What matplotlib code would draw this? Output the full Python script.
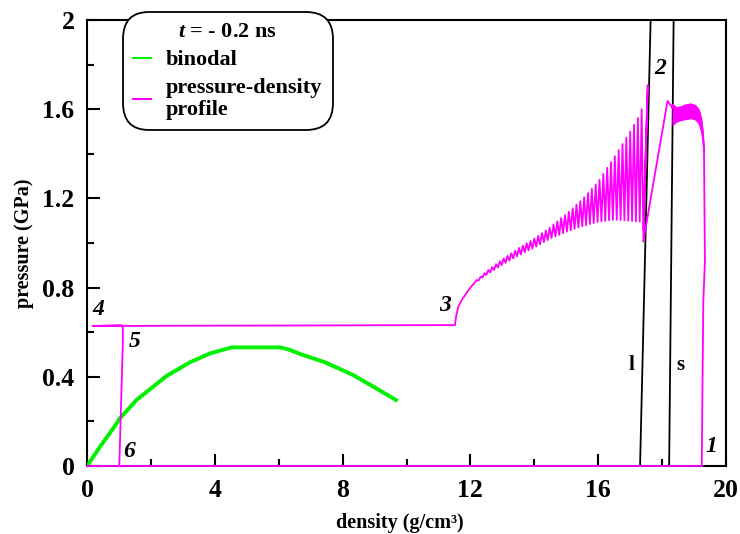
import matplotlib
matplotlib.use("Agg")
import matplotlib.pyplot as plt

plt.rcParams['font.family'] = ['Liberation Serif', 'DejaVu Serif']
plt.rcParams['font.weight'] = 'bold'
plt.rcParams['mathtext.fontset'] = 'custom'
plt.rcParams['mathtext.it'] = 'Liberation Serif:bold:italic'
plt.rcParams['mathtext.rm'] = 'Liberation Serif:bold'
plt.rcParams['mathtext.bf'] = 'Liberation Serif:bold'

# binodal curve
binodal_density = [0.0, 0.41, 0.82, 1.03, 1.55, 2.49, 3.22, 3.85, 4.53, 6.04, 6.30, 6.72, 7.45, 8.33, 8.96, 9.67]
binodal_pressure = [0.0, 0.087, 0.169, 0.214, 0.296, 0.404, 0.465, 0.505, 0.532, 0.532, 0.523, 0.50, 0.465, 0.408, 0.356, 0.296]

# pressure-density profile, piece by piece (points 1 -> 2 -> 3 -> 4 -> 5 -> 6)
bottom_density = [0.0, 19.24]
bottom_pressure = [0.0, 0.0]

rise_density = [19.24, 19.26, 19.29, 19.34, 19.31]
rise_pressure = [0.0, 0.30, 0.74, 0.92, 1.42]

# dense oscillating band near solid density (drawn as a band)
dome_density = [18.33, 18.45, 18.60, 18.75, 18.90, 19.05, 19.15, 19.22, 19.27, 19.31]
dome_upper = [1.62, 1.605, 1.61, 1.618, 1.622, 1.615, 1.595, 1.56, 1.50, 1.42]
dome_lower = [1.53, 1.545, 1.552, 1.556, 1.560, 1.553, 1.535, 1.50, 1.45, 1.40]

jump_density = [18.33, 18.17, 17.41, 17.55, 17.41]
jump_pressure = [1.604, 1.637, 1.006, 1.708, 1.06]

osc_density = [12.20, 12.26, 12.32, 12.38, 12.44, 12.50, 12.56, 12.62, 12.68, 12.74,
               12.80, 12.86, 12.92, 12.98, 13.04, 13.10, 13.16, 13.22, 13.28, 13.34,
               13.40, 13.46, 13.52, 13.58, 13.64, 13.70, 13.76, 13.82, 13.88, 13.94,
               14.00, 14.06, 14.12, 14.18, 14.24, 14.30, 14.36, 14.42, 14.48, 14.54,
               14.60, 14.66, 14.72, 14.78, 14.84, 14.90, 14.96, 15.02, 15.08, 15.14,
               15.20, 15.26, 15.32, 15.38, 15.44, 15.50, 15.56, 15.62, 15.68, 15.74,
               15.80, 15.86, 15.92, 15.98, 16.04, 16.10, 16.16, 16.22, 16.28, 16.34,
               16.40, 16.46, 16.52, 16.58, 16.64, 16.70, 16.76, 16.82, 16.88, 16.94,
               17.00, 17.06, 17.12, 17.18, 17.24, 17.30, 17.36]
osc_pressure = [0.834, 0.832, 0.849, 0.845, 0.865, 0.857, 0.879, 0.868, 0.892, 0.879,
                0.905, 0.890, 0.918, 0.901, 0.931, 0.911, 0.942, 0.921, 0.954, 0.931,
                0.966, 0.940, 0.978, 0.949, 0.988, 0.958, 0.999, 0.967, 1.009, 0.975,
                1.020, 0.984, 1.032, 0.994, 1.045, 1.004, 1.056, 1.013, 1.069, 1.022,
                1.083, 1.029, 1.097, 1.036, 1.112, 1.044, 1.125, 1.051, 1.140, 1.057,
                1.156, 1.063, 1.172, 1.069, 1.188, 1.075, 1.205, 1.080, 1.224, 1.085,
                1.243, 1.089, 1.262, 1.094, 1.284, 1.097, 1.310, 1.099, 1.337, 1.102,
                1.363, 1.104, 1.389, 1.104, 1.417, 1.103, 1.444, 1.102, 1.473, 1.100,
                1.500, 1.099, 1.530, 1.097, 1.561, 1.096, 1.60]

rarefaction_density = [12.10, 12.00, 11.90, 11.75, 11.62, 11.55, 11.52]
rarefaction_pressure = [0.817, 0.80, 0.78, 0.75, 0.714, 0.67, 0.635]

plateau_density = [11.52, 0.18, 1.08, 1.12, 1.12, 1.01]
plateau_pressure = [0.632, 0.628, 0.632, 0.62, 0.55, 0.0]

# melting lines (liquidus "l", solidus "s")
liquid_density = [17.31, 17.64]
solid_density = [18.22, 18.36]
melt_pressure = [0.0, 2.0]

# point labels
label_text = ['1', '2', '3', '4', '5', '6']
label_density = [19.55, 17.93, 11.20, 0.36, 1.50, 1.33]
label_pressure = [0.087, 1.783, 0.722, 0.70, 0.557, 0.064]

magenta = '#ff00ff'
green = '#00f000'

fig = plt.figure(figsize=(7.4, 5.34), dpi=100)
ax = fig.add_axes([0.1176, 0.1273, 0.8635, 0.8352])

ax.plot(liquid_density, melt_pressure, color='black', lw=1.3, zorder=2)
ax.plot(solid_density, melt_pressure, color='black', lw=1.3, zorder=2)

ax.plot(binodal_density, binodal_pressure, color=green, lw=2.8, zorder=3, label='binodal')

prof_x = (bottom_density + rise_density + dome_density[::-1] + jump_density
          + osc_density[::-1] + rarefaction_density + plateau_density)
prof_y = (bottom_pressure + rise_pressure + dome_upper[::-1] + jump_pressure
          + osc_pressure[::-1] + rarefaction_pressure + plateau_pressure)
ax.plot(prof_x, prof_y, color=magenta, lw=1.3, zorder=4,
        label='pressure-density\nprofile', clip_on=False)
ax.fill_between(dome_density, dome_lower, dome_upper, color=magenta, lw=0.8, zorder=4)

for t, x, y in zip(label_text, label_density, label_pressure):
    ax.text(x, y, t, fontsize=17, fontstyle='italic', fontweight='bold',
            ha='center', va='center', zorder=5)
ax.text(17.05, 0.453, 'l', fontsize=15, fontweight='bold', ha='center', va='center')
ax.text(18.56, 0.453, 's', fontsize=15, fontweight='bold', ha='center', va='center')

ax.set_xlim(0, 20)
ax.set_ylim(0, 2)
ax.set_xticks([0, 4, 8, 12, 16, 20])
ax.set_xticklabels(['0', '4', '8', '12', '16', '20'])
ax.set_xticks([2, 6, 10, 14, 18], minor=True)
ax.set_yticks([0, 0.4, 0.8, 1.2, 1.6, 2.0])
ax.set_yticklabels(['0', '0.4', '0.8', '1.2', '1.6', '2'])
ax.set_yticks([0.2, 0.6, 1.0, 1.4, 1.8], minor=True)
ax.tick_params(which='both', direction='in', width=1.5, labelsize=18.5, pad=9)
ax.tick_params(which='major', length=9)
ax.tick_params(which='minor', length=5)
for s in ax.spines.values():
    s.set_linewidth(1.5)

ax.set_xlabel('density (g/cm³)', fontsize=14.5, fontweight='bold', labelpad=6)
ax.xaxis.set_label_coords(0.49, -0.105)
ax.set_ylabel('pressure (GPa)', fontsize=14.5, fontweight='bold', labelpad=6)

leg = ax.legend(loc='upper left', bbox_to_anchor=(0.056, 1.018), borderaxespad=0,
                title=r'$t$ = - 0.2 ns', fontsize=16, handlelength=0.8,
                handletextpad=0.7, labelspacing=0.35, borderpad=0.45,
                fancybox=True, framealpha=1, edgecolor='black')
leg.get_frame().set_linewidth(1.3)
leg.get_frame().set_boxstyle('round', pad=0.0, rounding_size=1.2)
leg.get_title().set_fontsize(16)
leg.get_title().set_fontweight('bold')
for h in leg.get_lines():
    h.set_linewidth(1.5)
for t in leg.get_texts():
    t.set_linespacing(1.1)

fig.savefig('out.png', dpi=100)
